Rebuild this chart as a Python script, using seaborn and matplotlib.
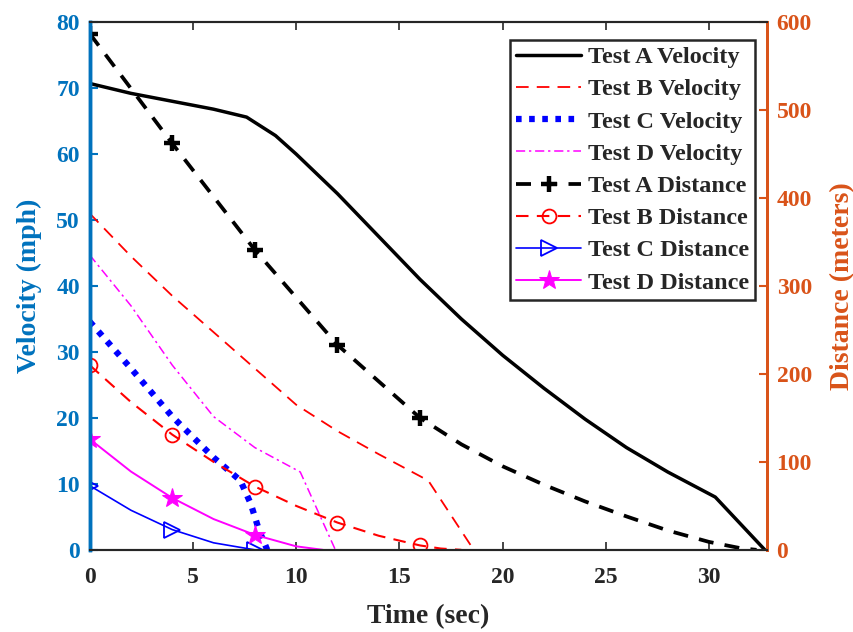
import numpy as np
import pandas as pd
import matplotlib
matplotlib.use("Agg")
import matplotlib.pyplot as plt
import seaborn as sns

# ---- data (time in sec) ----
# velocities (mph), left axis
t_vel_a = [0, 2, 4, 6, 7.6, 9, 10, 11, 12, 14, 16, 18, 20, 22, 24, 26, 28, 30.3, 32.7]
vel_a = [70.7, 69.2, 68.0, 66.8, 65.6, 62.8, 60.0, 57.0, 54.0, 47.5, 41.0, 35.0, 29.5, 24.5, 19.8, 15.5, 11.8, 8.0, 0]

t_vel_b = [0, 2, 4, 6, 8, 10, 12, 14, 16.4, 18.6]
vel_b = [51, 44.5, 38.5, 33, 27.5, 22, 18, 14.5, 10.5, 0]

t_vel_c = [0, 2, 4, 6, 7.3, 7.8, 8.2, 8.6]
vel_c = [34.6, 27.5, 20.2, 14, 10.5, 7, 3, 0]

t_vel_d = [0, 2, 4, 6, 8, 10.2, 11.9]
vel_d = [44.7, 37, 28, 20.2, 15.5, 11.8, 0]

# distances (meters), right axis
t_dist_a = [0, 4, 8, 12, 16, 18, 20, 22, 24, 26, 28, 30, 31.5, 32.3]
dist_a = [587, 462, 341, 233, 150, 120, 95, 74, 55, 38, 22, 9, 2, 0]

t_dist_b = [0, 2, 4, 6, 8, 10, 12, 14, 16, 17, 18]
dist_b = [210, 168, 131, 100, 72, 50, 31, 16, 5, 1.5, 0]

t_dist_c = [0, 2, 4, 6, 8]
dist_c = [73, 45, 23, 8, 0]

t_dist_d = [0, 2, 4, 6, 8, 10, 11.3]
dist_d = [126, 89, 59, 35, 17, 4, 0]

x_ticks = [0, 5, 10, 15, 20, 25, 30]
vel_ticks = [0, 10, 20, 30, 40, 50, 60, 70, 80]
dist_ticks = [0, 100, 200, 300, 400, 500, 600]

blue_axis = "#0072BD"
orange_axis = "#D95319"
dark = "#262626"

sns.set_style("ticks")
plt.rcParams["font.family"] = ["Liberation Serif", "DejaVu Serif"]
plt.rcParams["font.weight"] = "bold"
plt.rcParams["xtick.direction"] = "in"
plt.rcParams["ytick.direction"] = "in"

fig = plt.figure(figsize=(8.54, 6.32), dpi=100)
ax = fig.add_axes([0.105, 0.130, 0.793, 0.835])
ax2 = ax.twinx()

# velocity curves
sns.lineplot(x=t_vel_a, y=vel_a, ax=ax, color="black", lw=2.5, sort=False,
             label="Test A Velocity")
sns.lineplot(x=t_vel_b, y=vel_b, ax=ax, color="#FF0000", lw=1.3, sort=False,
             label="Test B Velocity", linestyle=(0, (7, 4.5)))
sns.lineplot(x=t_vel_c, y=vel_c, ax=ax, color="#0000FF", lw=4.5, sort=False,
             label="Test C Velocity", linestyle=(0, (0.9, 1.2)))
sns.lineplot(x=t_vel_d, y=vel_d, ax=ax, color="#FF00FF", lw=1.1, sort=False,
             label="Test D Velocity", linestyle=(0, (6, 2.5, 1.5, 2.5)))

# distance curves
sns.lineplot(x=t_dist_a, y=dist_a, ax=ax2, color="black", lw=2.7, sort=False,
             label="Test A Distance", linestyle=(0, (4, 3)),
             marker="+", markersize=11, markeredgewidth=3.2,
             markeredgecolor="black", markevery=[0, 1, 2, 3, 4])
sns.lineplot(x=t_dist_b, y=dist_b, ax=ax2, color="#FF0000", lw=1.5, sort=False,
             label="Test B Distance", linestyle=(0, (6, 4)),
             marker="o", markersize=10, markerfacecolor="none",
             markeredgecolor="#FF0000", markeredgewidth=1.3,
             markevery=[0, 2, 4, 6, 8])
sns.lineplot(x=t_dist_c, y=dist_c, ax=ax2, color="#0000FF", lw=1.2, sort=False,
             label="Test C Distance", marker=">", markersize=11,
             markerfacecolor="none", markeredgecolor="#0000FF",
             markeredgewidth=1.3, markevery=[0, 2, 4])
sns.lineplot(x=t_dist_d, y=dist_d, ax=ax2, color="#FF00FF", lw=1.4, sort=False,
             label="Test D Distance", marker="*", markersize=15,
             markerfacecolor="#FF00FF", markeredgecolor="#FF00FF",
             markevery=[0, 2, 4])

ax.set_xlim(0, 32.8)
ax.set_ylim(0, 80)
ax2.set_ylim(0, 600)
ax.set_xticks(x_ticks)
ax.set_yticks(vel_ticks)
ax2.set_yticks(dist_ticks)

ax.set_xlabel("Time (sec)", fontsize=20, fontweight="bold", color=dark,
              labelpad=12)
ax.set_ylabel("Velocity (mph)", fontsize=20, fontweight="bold", color=blue_axis,
              labelpad=10)
ax2.set_ylabel("Distance (meters)", fontsize=20, fontweight="bold",
               color=orange_axis, labelpad=13)

ax.tick_params(axis="x", labelsize=17, colors=dark, top=True, length=6,
               width=1.2, pad=12)
ax.tick_params(axis="y", labelsize=17, colors=blue_axis, length=6, width=1.5,
               pad=7)
ax2.tick_params(axis="y", labelsize=17, colors=orange_axis, length=6,
                width=1.5, pad=7)
for lab in ax.get_xticklabels() + ax.get_yticklabels() + ax2.get_yticklabels():
    lab.set_fontweight("bold")

for a in (ax, ax2):
    a.spines["top"].set_color(dark)
    a.spines["bottom"].set_color(dark)
    a.spines["top"].set_linewidth(1.5)
    a.spines["bottom"].set_linewidth(1.5)
    a.spines["left"].set_color(blue_axis)
    a.spines["left"].set_linewidth(2.5)
    a.spines["right"].set_color(orange_axis)
    a.spines["right"].set_linewidth(2.0)

# one legend for both axes
h1, l1 = ax.get_legend_handles_labels()
h2, l2 = ax2.get_legend_handles_labels()
ax.get_legend().remove()
ax2.get_legend().remove()
leg = ax2.legend(h1 + h2, l1 + l2, loc="upper right",
                 bbox_to_anchor=(0.982, 0.966), borderaxespad=0,
                 prop={"weight": "bold", "size": 17.5}, frameon=True,
                 fancybox=False, framealpha=1, edgecolor=dark,
                 handlelength=2.7, labelspacing=0.42,
                 handletextpad=0.25, borderpad=0.25)
leg.get_frame().set_linewidth(1.8)

fig.savefig("out.png", dpi=100)
